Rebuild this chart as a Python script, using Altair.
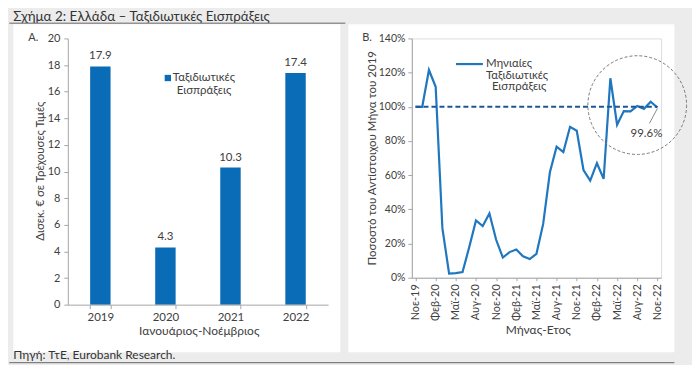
import altair as alt
import pandas as pd

# ---------------- data ----------------
years = ["2019", "2020", "2021", "2022"]
receipts = [17.9, 4.3, 10.3, 17.4]

months = ["Νοε-19", "Δεκ-19",
          "Ιαν-20", "Φεβ-20", "Μαρ-20", "Απρ-20", "Μαϊ-20", "Ιουν-20",
          "Ιουλ-20", "Αυγ-20", "Σεπ-20", "Οκτ-20", "Νοε-20", "Δεκ-20",
          "Ιαν-21", "Φεβ-21", "Μαρ-21", "Απρ-21", "Μαϊ-21", "Ιουν-21",
          "Ιουλ-21", "Αυγ-21", "Σεπ-21", "Οκτ-21", "Νοε-21", "Δεκ-21",
          "Ιαν-22", "Φεβ-22", "Μαρ-22", "Απρ-22", "Μαϊ-22", "Ιουν-22",
          "Ιουλ-22", "Αυγ-22", "Σεπ-22", "Οκτ-22", "Νοε-22"]
pct_values = [100, 100,
              121.5, 111.7, 29.0, 2.4, 2.7, 3.3,
              18.0, 33.5, 30.2, 37.6, 22.2, 11.8,
              15.0, 16.5, 12.5, 10.9, 14.0, 31.5,
              61.7, 76.7, 73.5, 88.3, 86.0, 63.0,
              56.8, 67.0, 57.8, 116.7, 89.5, 97.5,
              97.3, 100.5, 98.8, 103.0, 99.6]
tick_months = months[::3]
baseline_level = [1.0, 1.0]
highlight_month = ["Αυγ-22"]
highlight_level = [1.01]

# ---------------- style ----------------
FONT = "Lato"
BG = "#ececec"
TXT = "#404040"
AX = "#a6a6a6"
BLUE = "#0a6cb7"
LINE = "#1f77c0"
DASH = "#1d5597"

# left plot origin (in reference pixel coordinates, page margin included)
OX, OY = 66.7, 37.3
RX = 411.7  # right plot origin x


def L(x):
    return x - OX


def R(x):
    return x - RX


def T(y):
    return y - OY


one = pd.DataFrame({"k": [0]})


def rect(x1, x2, y1, y2, color):
    return alt.Chart(one).mark_rect(color=color).encode(
        x=alt.value(x1), x2=alt.value(x2), y=alt.value(y1), y2=alt.value(y2))


def rule(x1, x2, y1, y2, color, width=1.0):
    return alt.Chart(one).mark_rule(color=color, strokeWidth=width).encode(
        x=alt.value(x1), x2=alt.value(x2), y=alt.value(y1), y2=alt.value(y2))


def txt(text, x, y, size=11.5, align="left", baseline="middle", color=TXT):
    return alt.Chart(one).mark_text(text=text, align=align, baseline=baseline,
                                    fontSize=size, color=color, font=FONT).encode(
        x=alt.value(x), y=alt.value(y))


# ---------------- left panel (bars) + page decorations ----------------
bar_df = pd.DataFrame({"year": years, "value": receipts})

deco = [
    rect(L(8), L(692), T(8), T(363), BG),
    rect(L(12), L(340), T(23), T(352), "white"),
    rect(L(348), L(675), T(23), T(352), "white"),
    txt("Σχήμα 2: Ελλάδα – Ταξιδιωτικές Εισπράξεις", L(12), T(20), size=13.5,
        baseline="alphabetic", color="#333333"),
    rule(L(8), L(345), T(22), T(22), "#666666"),
    txt("Πηγή: ΤτΕ, Eurobank Research.", L(12), T(359), size=12,
        baseline="alphabetic", color="#333333"),
    rule(L(8), L(675), T(362.5), T(362.5), "#666666"),
    txt("A.", L(27), T(37), size=11),
]

x_left = alt.X("year:N", sort=years,
               scale=alt.Scale(paddingInner=0.686, paddingOuter=0.343),
               axis=alt.Axis(title="Ιανουάριος-Νοέμβριος", labelAngle=0,
                             tickBand="extent", tickSize=4, tickColor=AX,
                             domainColor=AX, labelFontSize=11.5, labelColor=TXT,
                             labelPadding=3, labelOverlap=False,
                             titleFontSize=12,
                             titleFontWeight="normal", titleColor=TXT,
                             titleX=L(198), titleY=26, titleAlign="center",
                             titleBaseline="middle", zindex=1))
y_left = alt.Y("value:Q", scale=alt.Scale(domain=[0, 20], nice=False),
               axis=alt.Axis(values=list(range(0, 21, 2)),
                             title="Δισεκ. € σε Τρέχουσες Τιμές", grid=False,
                             tickSize=4, tickColor=AX, domainColor=AX,
                             labelFontSize=11, labelColor=TXT, labelPadding=4,
                             labelOverlap=False,
                             titleFontSize=11.5, titleFontWeight="normal",
                             titleColor=TXT, titleX=L(39), titleY=T(170),
                             titleAngle=270, titleAlign="center",
                             titleBaseline="middle", zindex=1))

bars = alt.Chart(bar_df).mark_bar(color=BLUE).encode(x=x_left, y=y_left)
bar_labels = alt.Chart(bar_df).mark_text(
    dy=-7, baseline="alphabetic", fontSize=11.5, color=TXT, font=FONT
).encode(x=x_left, y=y_left, text=alt.Text("value:Q", format=".1f"))

left_legend = [
    alt.Chart(one).mark_square(size=40, color=BLUE, opacity=1).encode(
        x=alt.value(L(167)), y=alt.value(T(77))),
    txt("Ταξιδιωτικές", L(172), T(77), size=11.5),
    txt("Εισπράξεις", L(176), T(90), size=11.5),
]

left = alt.layer(*deco, bars, bar_labels, *left_legend).properties(
    width=261, height=267)

# ---------------- right panel (line) ----------------
line_df = pd.DataFrame({"month": months,
                        "pct": [v / 100 for v in pct_values]})
ref_df = pd.DataFrame({"month": [months[0], months[-1]],
                       "pct": baseline_level})
circ_df = pd.DataFrame({"month": highlight_month, "pct": highlight_level})
last_df = line_df.tail(1)

x_right = alt.X("month:N", sort=months,
                scale=alt.Scale(type="point", padding=0.55),
                axis=alt.Axis(values=tick_months, labelAngle=270,
                              title="Μήνας-Ετος", tickSize=3, tickColor=AX,
                              domainColor=AX, labelFontSize=11,
                              labelColor=TXT, labelPadding=3,
                              labelOverlap=False,
                              titleFontSize=12, titleFontWeight="normal",
                              titleColor=TXT, titleX=R(538), titleY=51.7,
                              titleAlign="center", titleBaseline="middle",
                              zindex=1))
y_right = alt.Y("pct:Q", scale=alt.Scale(domain=[0, 1.4], nice=False),
                axis=alt.Axis(values=[0, 0.2, 0.4, 0.6, 0.8, 1.0, 1.2, 1.4],
                              format=".0%", grid=False,
                              title="Ποσοστό του Αντίστοιχου Μήνα του 2019",
                              tickSize=4, tickColor=AX, domainColor=AX,
                              labelFontSize=10.5, labelColor=TXT,
                              labelPadding=3, labelOverlap=False,
                              titleFontSize=11.5,
                              titleFontWeight="normal", titleColor=TXT,
                              titleX=R(372), titleY=T(157), titleAngle=270,
                              titleAlign="center", titleBaseline="middle",
                              zindex=1))

line = alt.Chart(line_df).mark_line(color=LINE, strokeWidth=2.2).encode(
    x=x_right, y=y_right)
ref_line = alt.Chart(ref_df).mark_line(
    color=DASH, strokeWidth=2, strokeDash=[5, 3]).encode(x=x_right, y=y_right)
circle = alt.Chart(circ_df).mark_point(
    shape="circle", size=9800, filled=False, color="#777777",
    strokeWidth=1, strokeDash=[3, 2], opacity=1).encode(x=x_right, y=y_right)
last_label = alt.Chart(last_df).mark_text(
    dx=-11, dy=27, fontSize=11.5, color=TXT, font=FONT).encode(
    x=x_right, y=y_right, text=alt.Text("pct:Q", format=".1%"))

right_extra = [
    rule(R(658), R(650), T(107.5), T(122.5), "#8c8c8c"),
    rule(R(456), R(483), T(63), T(63), LINE, 2.2),
    txt("Μηνιαίες", R(486), T(63)),
    txt("Ταξιδιωτικές", R(486), T(74.5)),
    txt("Εισπράξεις", R(492), T(86)),
    txt("B.", R(362), T(37), size=11),
]

right = alt.layer(line, ref_line, circle, last_label, *right_extra).properties(
    width=250, height=240)

chart = alt.hconcat(left, right, spacing=RX - OX - 261, bounds="flush",
                    padding=0).configure_view(stroke=None).configure(
    background=BG, font=FONT)

chart.save("out.html", embed_options={"renderer": "svg", "actions": False})
